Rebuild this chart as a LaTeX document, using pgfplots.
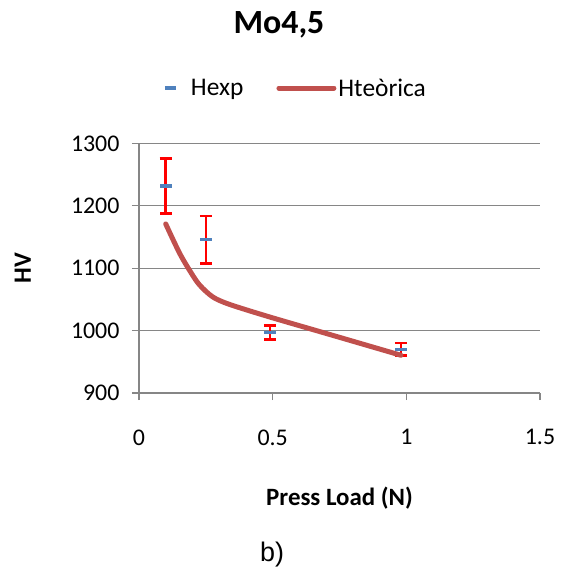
\documentclass[border=0pt]{standalone}
\usepackage{pgfplots}
\pgfplotsset{compat=1.18}
\usepackage{fontspec}
\setmainfont{Carlito}
\newfontfamily\arialfont{Liberation Sans}
\definecolor{gridgray}{HTML}{868686}
\definecolor{xlblue}{HTML}{4F81BD}
\definecolor{xlred}{HTML}{C0504D}
\begin{document}
\begin{tikzpicture}
\path[use as bounding box] (-139bp,-176bp) rectangle (428bp,393bp);
\begin{axis}[
  at={(0,0)}, anchor=south west,
  scale only axis, width=401bp, height=249.5bp,
  xmin=0, xmax=1.5, ymin=900, ymax=1300,
  xtick={0,0.5,1,1.5}, ytick={900,1000,1100,1200,1300},
  xticklabels={0,0.5,1,1.5},
  axis x line=bottom, axis y line=left,
  axis line style={gridgray, line width=1.2bp, -},
  tick align=outside, major tick length=7bp,
  tick style={gridgray, line width=1.2bp},
  ymajorgrids, grid style={gridgray, line width=1.2bp},
  /pgf/number format/assume math mode=true,
  /pgf/number format/1000 sep={},
  ticklabel style={font=\fontsize{24}{28}\selectfont},
  xticklabel style={yshift=-26bp},
  yticklabel style={xshift=-9bp},
  xlabel={\textbf{Press Load (N)}},
  ylabel={\textbf{HV}},
  xlabel style={at={(axis description cs:0.5,-0.42)}, anchor=center, font=\fontsize{25}{30}\selectfont},
  ylabel style={at={(axis description cs:-0.29,0.5)}, anchor=center, rotate=0, font=\fontsize{25}{30}\selectfont},
  title={\textbf{Mo4,5}},
  title style={at={(axis description cs:0.349,1.45)}, anchor=center, font=\fontsize{34}{40}\selectfont},
  legend columns=2,
  legend style={draw=none, fill=none, at={(axis description cs:0.052,1.2224)}, anchor=west,
    font=\fontsize{25.5}{30}\selectfont, nodes={inner xsep=2bp},
    /tikz/every even column/.append style={column sep=31bp}},
  clip=false,
]
\addplot[only marks, mark=-, mark size=6bp, mark options={xlblue, line width=3.5bp},
  legend image code/.code={\draw[xlblue, line width=3.5bp] (0,0) -- (11bp,0); \path (24bp,0);},
  error bars/.cd, y dir=both, y explicit,
  error bar style={red, line width=2.5bp},
  error mark options={red, mark size=6bp, line width=2.5bp, rotate=90}]
  coordinates {
  (0.1,1232) +- (0,44)
  (0.25,1146) +- (0,38)
  (0.49,997) +- (0,11)
  (0.98,970) +- (0,10)
};
\addlegendentry{Hexp}
\addplot[xlred, line width=5bp, smooth, tension=0.5, line cap=round,
  legend image code/.code={\draw[xlred, line width=5bp, line cap=round] (0,0) -- (55bp,0);}]
  coordinates {
  (0.1,1171) (0.152,1124) (0.196,1092) (0.227,1073) (0.276,1054) (0.339,1042)
  (0.488,1022) (0.712,994) (0.98,960.5)
};
\addlegendentry{Hteòrica}
\node[font=\arialfont\fontsize{27}{32}\selectfont] at (axis description cs:0.332,-0.649) {b)};
\end{axis}
\end{tikzpicture}
\end{document}
